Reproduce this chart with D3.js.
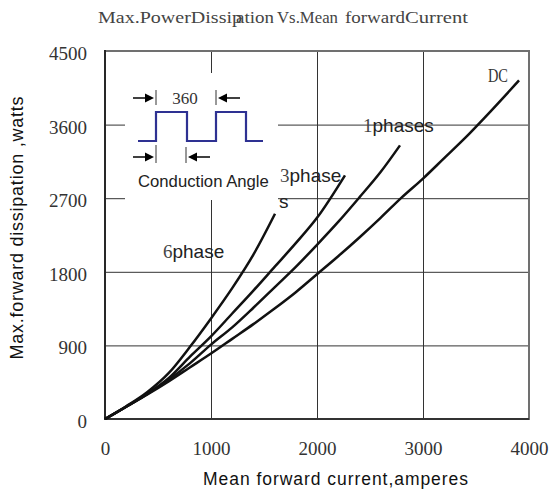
<!DOCTYPE html>
<html>
<head>
<meta charset="utf-8">
<script src="https://cdn.jsdelivr.net/npm/d3@7"></script>
<style>
body{margin:0;background:#fff}
svg{display:block}
</style>
</head>
<body>
<div id="chart"></div>
<script>
// values (mean current in A, dissipation in W)
var xTicks = [0, 1000, 2000, 3000, 4000]
var yTicks = [0, 900, 1800, 2700, 3600, 4500]

var amps6 = [0, 200, 400, 600, 800, 1000, 1200, 1400, 1604]
var watts6 = [0, 155, 330, 560, 880, 1230, 1600, 2010, 2510]
var amps3 = [0, 200, 400, 600, 800, 1000, 1200, 1400, 1600, 1800, 2000, 2264]
var watts3 = [0, 150, 310, 500, 760, 1010, 1290, 1570, 1860, 2150, 2460, 2980]
var amps1 = [0, 200, 400, 600, 800, 1000, 1200, 1400, 1600, 1800, 2000, 2200, 2400, 2600, 2783]
var watts1 = [0, 150, 305, 480, 680, 910, 1120, 1360, 1610, 1860, 2130, 2410, 2710, 3020, 3346]
var ampsDC = [0, 200, 400, 600, 800, 1000, 1200, 1400, 1600, 1800, 2000, 2200, 2400, 2600, 2800, 3000, 3200, 3400, 3600, 3906]
var wattsDC = [0, 150, 300, 460, 630, 800, 980, 1160, 1350, 1550, 1770, 1990, 2220, 2460, 2710, 2940, 3190, 3440, 3710, 4140]

var curves = [
  {num: "6", name: "phase", a: amps6, w: watts6, at: [547, 1969]},
  {num: "3", name: "phase", a: amps3, w: watts3, at: [1651, 2898]},
  {num: "1", name: "phases", a: amps1, w: watts1, at: [2434, 3509]},
  {num: "", name: "DC", a: ampsDC, w: wattsDC, at: [3613, 4121]}
]

const W = 549, H = 491
const pLeft = 105, pRight = 529, pTop = 51, pBottom = 419

const svg = d3.select("#chart").append("svg")
  .attr("width", W)
  .attr("height", H)

const x = d3.scaleLinear().domain([0, 4000]).range([pLeft, pRight])
const y = d3.scaleLinear().domain([0, 4500]).range([pBottom, pTop])

const serif = "'Liberation Serif', 'DejaVu Serif', serif"
const sans = "'Liberation Sans', Arial, sans-serif"

// grid lines
svg.append("g")
   .attr("transform", "translate(0," + pBottom + ")")
   .call(d3.axisBottom(x).tickValues([1000, 2000, 3000]).tickSize(-(pBottom - pTop)).tickFormat(""))
   .call(g => g.select(".domain").remove())
   .selectAll("line").attr("stroke", "#333").attr("stroke-width", 1)

svg.append("g")
   .attr("transform", "translate(" + pLeft + ",0)")
   .call(d3.axisLeft(y).tickValues([900, 1800, 2700, 3600]).tickSize(-(pRight - pLeft)).tickFormat(""))
   .call(g => g.select(".domain").remove())
   .selectAll("line").attr("stroke", "#333").attr("stroke-width", 1)

// frame
svg.append("rect")
   .attr("x", pLeft).attr("y", pTop)
   .attr("width", pRight - pLeft).attr("height", pBottom - pTop)
   .attr("fill", "none").attr("stroke", "#707070").attr("stroke-width", 2)
svg.append("line")
   .attr("x1", pLeft).attr("x2", pLeft).attr("y1", pTop - 1).attr("y2", pBottom + 1)
   .attr("stroke", "#111").attr("stroke-width", 1.5)
svg.append("line")
   .attr("x1", pLeft).attr("x2", pRight).attr("y1", pBottom).attr("y2", pBottom)
   .attr("stroke", "#333").attr("stroke-width", 2)

// tick labels
svg.append("g")
   .attr("transform", "translate(0," + pBottom + ")")
   .call(d3.axisBottom(x).tickValues(xTicks).tickSize(0).tickPadding(23).tickFormat(d3.format("d")))
   .call(g => g.select(".domain").remove())
   .selectAll("text")
   .attr("font-family", serif).attr("font-size", 19).attr("fill", "#333")

svg.append("g")
   .attr("transform", "translate(" + pLeft + ",0)")
   .call(d3.axisLeft(y).tickValues(yTicks).tickSize(0).tickPadding(18).tickFormat(d3.format("d")))
   .call(g => g.select(".domain").remove())
   .selectAll("text")
   .attr("font-family", serif).attr("font-size", 19).attr("fill", "#333")
   .attr("dy", "0.45em")

// inset with the conduction angle sketch, it hides the grid behind it
const inset = svg.append("g").attr("transform", "translate(125,73)")
inset.append("rect").attr("width", 153).attr("height", 127).attr("fill", "#fff")

var wave = [[13, 68], [31, 68], [31, 39], [62, 39], [62, 68], [91, 68], [91, 39], [121, 39], [121, 68], [138, 68]]
inset.append("path")
   .attr("d", d3.line()(wave))
   .attr("fill", "none").attr("stroke", "#2e3192").attr("stroke-width", 2.2)

function arrow(g, x0, x1, yy) {
  var dir = x1 > x0 ? 1 : -1
  g.append("line").attr("x1", x0).attr("x2", x1 - dir * 7).attr("y1", yy).attr("y2", yy)
   .attr("stroke", "#000").attr("stroke-width", 1.5)
  g.append("path")
   .attr("d", d3.line()([[x1, yy], [x1 - dir * 9, yy - 4.5], [x1 - dir * 9, yy + 4.5]]) + "Z")
   .attr("fill", "#000")
}
function bar(g, xx, y0, y1) {
  g.append("line").attr("x1", xx).attr("x2", xx).attr("y1", y0).attr("y2", y1)
   .attr("stroke", "#333").attr("stroke-width", 1)
}
bar(inset, 31, 17, 32); bar(inset, 91, 17, 32)
arrow(inset, 8, 29, 25); arrow(inset, 115, 93, 25)
bar(inset, 31, 72, 90); bar(inset, 61, 74, 90)
arrow(inset, 8, 29, 84); arrow(inset, 85, 63, 84)
inset.append("text").attr("x", 60).attr("y", 31)
   .attr("text-anchor", "middle").attr("font-family", serif).attr("font-size", 17).attr("fill", "#333")
   .text("360")
inset.append("text").attr("x", 13).attr("y", 114)
   .attr("font-family", sans).attr("font-size", 16.7).attr("fill", "#222")
   .text("Conduction Angle")

// curves
const line = d3.line()
  .x(d => x(d[0]))
  .y(d => y(d[1]))
  .curve(d3.curveMonotoneX)

curves.forEach(function(c) {
  svg.append("path")
     .datum(c.a.map((v, i) => [v, c.w[i]]))
     .attr("d", line)
     .attr("fill", "none")
     .attr("stroke", "#111")
     .attr("stroke-width", 2.5)
})

// curve labels
curves.forEach(function(c) {
  var t = svg.append("text")
     .attr("x", x(c.at[0])).attr("y", y(c.at[1]))
     .attr("font-size", 19).attr("fill", "#222")
  if (c.name == "DC") {
    t.attr("font-family", serif).attr("textLength", 20).attr("lengthAdjust", "spacingAndGlyphs")
     .attr("fill", "#333").text("DC")
    return
  }
  t.append("tspan").attr("font-family", serif).attr("fill", "#444").text(c.num)
  if (c.num == "3") {
    t.append("tspan").attr("font-family", sans).text("phase")
    svg.append("text").attr("x", x(c.at[0]) - 1).attr("y", y(c.at[1]) + 26)
       .attr("font-family", sans).attr("font-size", 19).attr("fill", "#222").text("s")
  } else {
    t.append("tspan").attr("font-family", sans).text(c.name)
  }
})

// title, the pieces overlap like in the original
var titleParts = [["Max.PowerDissip", 98, 144], ["ation", 236, 38], ["Vs.Mean", 277, 61], ["forward", 345, 60], ["Current", 405, 63]]
titleParts.forEach(function(p) {
  svg.append("text")
     .attr("x", p[1]).attr("y", 23)
     .attr("font-family", serif).attr("font-size", 17).attr("fill", "#444")
     .attr("textLength", p[2]).attr("lengthAdjust", "spacingAndGlyphs")
     .text(p[0])
})

// axis titles
svg.append("text")
   .attr("x", 203).attr("y", 485)
   .attr("font-family", sans).attr("font-size", 17.5).attr("fill", "#111")
   .attr("textLength", 265).attr("lengthAdjust", "spacing")
   .text("Mean forward  current,amperes")

svg.append("text")
   .attr("transform", "translate(23,228) rotate(-90)")
   .attr("text-anchor", "middle")
   .attr("font-family", sans).attr("font-size", 18).attr("fill", "#111")
   .attr("textLength", 263).attr("lengthAdjust", "spacing")
   .text("Max.forward dissipation ,watts")
</script>
</body>
</html>
